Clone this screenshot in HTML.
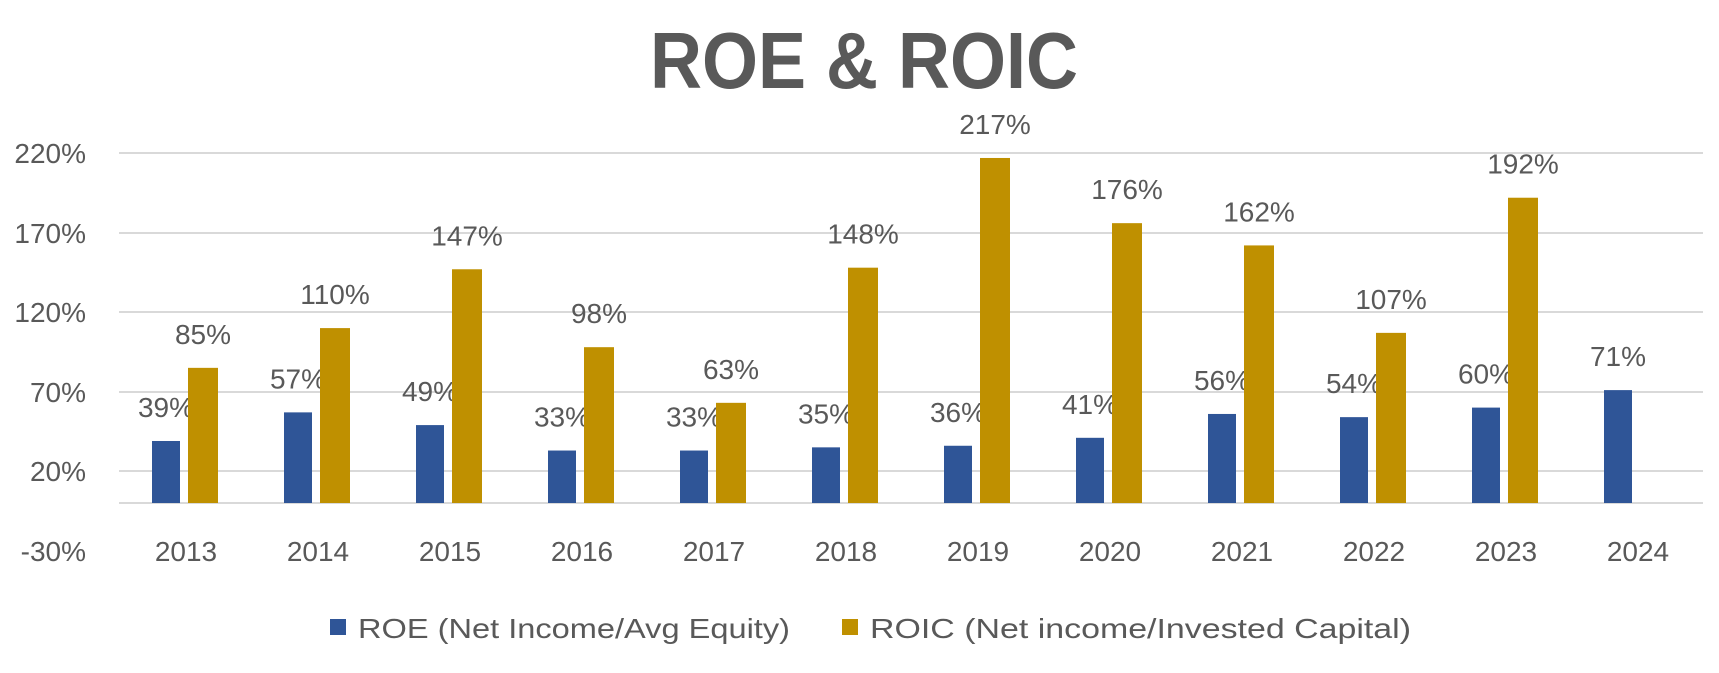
<!DOCTYPE html>
<html><head><meta charset="utf-8"><style>
html,body{margin:0;padding:0;background:#fff;}
svg{display:block;}
text{font-family:"Liberation Sans",sans-serif;fill:#595959;}
</style></head><body>
<svg width="1719" height="673" viewBox="0 0 1719 673" xmlns="http://www.w3.org/2000/svg">
<text x="864" y="88" font-size="80" font-weight="bold" text-anchor="middle" textLength="428" lengthAdjust="spacingAndGlyphs">ROE &amp; ROIC</text>
<g stroke="#D9D9D9" stroke-width="2">
<line x1="119" y1="153" x2="1703" y2="153"/>
<line x1="119" y1="233" x2="1703" y2="233"/>
<line x1="119" y1="312" x2="1703" y2="312"/>
<line x1="119" y1="392" x2="1703" y2="392"/>
<line x1="119" y1="471" x2="1703" y2="471"/>
<line x1="119" y1="503" x2="1703" y2="503"/>
</g>
<g font-size="28" text-anchor="end">
<text x="86" y="163">220%</text>
<text x="86" y="243">170%</text>
<text x="86" y="322">120%</text>
<text x="86" y="402">70%</text>
<text x="86" y="481">20%</text>
<text x="86" y="561">-30%</text>
</g>
<rect x="330" y="619" width="16" height="16" fill="#2F5597"/>
<text x="358" y="638" font-size="28" textLength="432" lengthAdjust="spacingAndGlyphs">ROE (Net Income/Avg Equity)</text>
<rect x="842" y="619" width="16" height="16" fill="#BF9000"/>
<text x="870" y="638" font-size="28" textLength="541" lengthAdjust="spacingAndGlyphs">ROIC (Net income/Invested Capital)</text>
<script>
var roe=[39,57,49,33,33,35,36,41,56,54,60,71];
var roic=[85,110,147,98,63,148,217,176,162,107,192,null];
var ns="http://www.w3.org/2000/svg";
var svg=document.querySelector('svg');
function el(t,a,txt){var e=document.createElementNS(ns,t);for(var k in a)e.setAttribute(k,a[k]);if(txt!=null)e.textContent=txt;svg.appendChild(e);return e;}
var z=503,k=1.59;
for(var i=0;i<12;i++){
 var x=152+132*i,h=roe[i]*k;
 el('rect',{x:x,y:z-h,width:28,height:h,fill:'#2F5597'});
 el('text',{x:x+14,y:z-h-24,'font-size':28,'text-anchor':'middle'},roe[i]+'%');
 if(roic[i]!=null){var x2=188+132*i,h2=roic[i]*k;
  el('rect',{x:x2,y:z-h2,width:30,height:h2,fill:'#BF9000'});
  el('text',{x:x2+15,y:z-h2-24,'font-size':28,'text-anchor':'middle'},roic[i]+'%');}
 el('text',{x:186+132*i,y:561,'font-size':28,'text-anchor':'middle'},String(2013+i));
}
</script>
</svg>
</body></html>
